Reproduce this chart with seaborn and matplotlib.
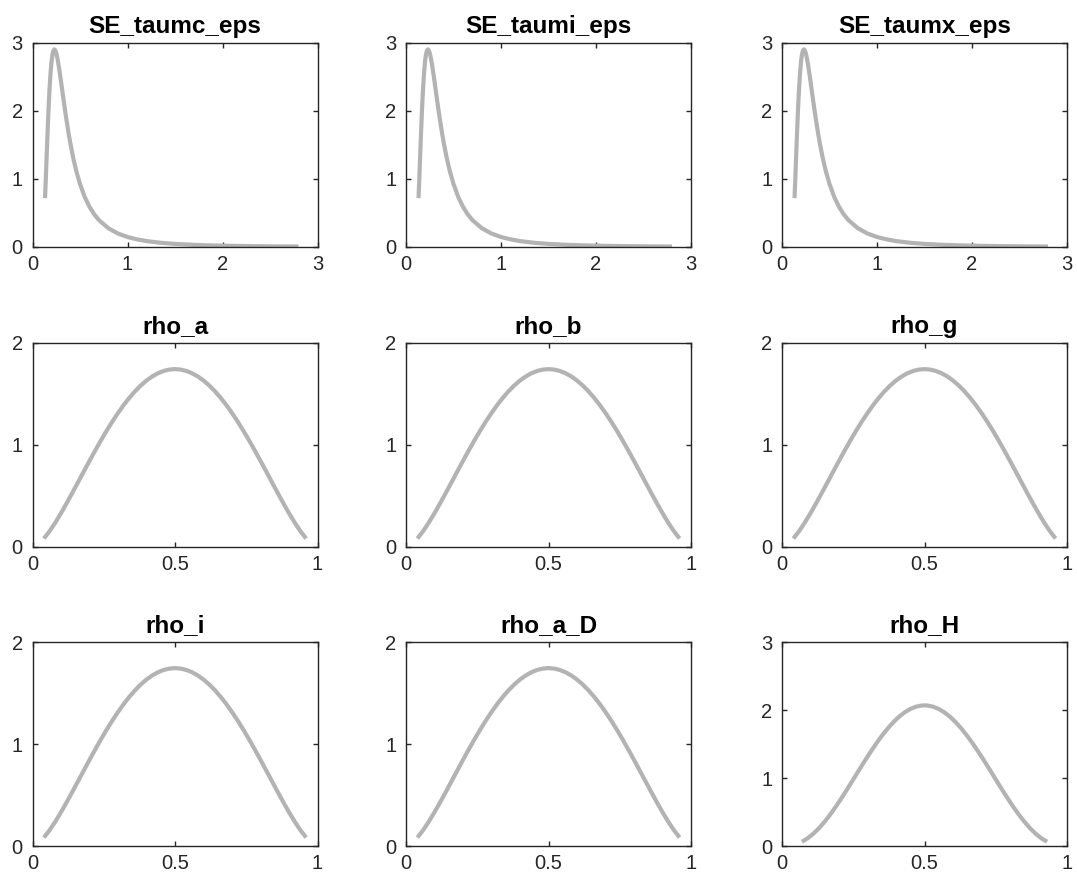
import matplotlib
matplotlib.use("Agg")
import matplotlib.pyplot as plt
import seaborn as sns
import pandas as pd

# Prior density of the shock standard errors (inverse gamma, mean 0.5)
se_x = [0.132, 0.14, 0.15, 0.16, 0.17, 0.18, 0.19, 0.20, 0.21, 0.22, 0.23,
        0.24, 0.25, 0.26, 0.27, 0.28, 0.30, 0.32, 0.34, 0.36, 0.38, 0.40,
        0.43, 0.46, 0.50, 0.55, 0.60, 0.65, 0.70, 0.80, 0.90, 1.00, 1.10,
        1.20, 1.35, 1.50, 1.70, 1.90, 2.10, 2.30, 2.55, 2.80]
se_y = [0.7189, 1.0004, 1.3726, 1.7356, 2.0637, 2.3406, 2.5598, 2.7211,
        2.8281, 2.8873, 2.9062, 2.8918, 2.8514, 2.7903, 2.7143, 2.6275,
        2.4348, 2.2329, 2.0343, 1.8461, 1.6716, 1.5123, 1.3017, 1.1226,
        0.9261, 0.7353, 0.5907, 0.4800, 0.3945, 0.2745, 0.1979, 0.1470,
        0.1120, 0.08715, 0.06192, 0.04552, 0.03152, 0.02270, 0.01688,
        0.01289, 0.00948, 0.00718]

# Prior density of the persistence parameters (beta, mean 0.5, sd 0.2)
rho_x = [0.04, 0.06, 0.08, 0.10, 0.12, 0.14, 0.16, 0.18, 0.20, 0.22, 0.24,
         0.26, 0.28, 0.30, 0.32, 0.34, 0.36, 0.38, 0.40, 0.42, 0.44, 0.46,
         0.48, 0.50, 0.52, 0.54, 0.56, 0.58, 0.60, 0.62, 0.64, 0.66, 0.68,
         0.70, 0.72, 0.74, 0.76, 0.78, 0.80, 0.82, 0.84, 0.86, 0.88, 0.90,
         0.92, 0.94, 0.96]
rho_y = [0.0831, 0.1552, 0.2391, 0.3315, 0.4298, 0.5319, 0.6361, 0.7406,
         0.8443, 0.9461, 1.0449, 1.1395, 1.2294, 1.3136, 1.3919, 1.4632,
         1.5273, 1.5836, 1.6320, 1.6720, 1.7032, 1.7258, 1.7393, 1.7441,
         1.7393, 1.7258, 1.7032, 1.6720, 1.6320, 1.5836, 1.5273, 1.4632,
         1.3919, 1.3136, 1.2294, 1.1395, 1.0449, 0.9461, 0.8443, 0.7406,
         0.6361, 0.5319, 0.4298, 0.3315, 0.2391, 0.1552, 0.0831]

# Prior density of rho_H (beta, mean 0.5, tighter)
rhoH_x = [0.07, 0.09, 0.11, 0.13, 0.15, 0.17, 0.19, 0.21, 0.23, 0.25, 0.27,
          0.29, 0.31, 0.33, 0.35, 0.37, 0.39, 0.41, 0.43, 0.45, 0.47, 0.49,
          0.50, 0.51, 0.53, 0.55, 0.57, 0.59, 0.61, 0.63, 0.65, 0.67, 0.69,
          0.71, 0.73, 0.75, 0.77, 0.79, 0.81, 0.83, 0.85, 0.87, 0.89, 0.91,
          0.93]
rhoH_y = [0.0626, 0.1136, 0.1808, 0.2630, 0.3591, 0.4674, 0.5857, 0.7121,
          0.8438, 0.9788, 1.1145, 1.2486, 1.3785, 1.5025, 1.6184, 1.7239,
          1.8180, 1.8986, 1.9645, 2.0148, 2.0489, 2.0659, 2.0680, 2.0659,
          2.0489, 2.0148, 1.9645, 1.8986, 1.8180, 1.7239, 1.6184, 1.5025,
          1.3785, 1.2486, 1.1145, 0.9788, 0.8438, 0.7121, 0.5857, 0.4674,
          0.3591, 0.2630, 0.1808, 0.1136, 0.0626]

titles = ["SE_taumc_eps", "SE_taumi_eps", "SE_taumx_eps",
          "rho_a", "rho_b", "rho_g",
          "rho_i", "rho_a_D", "rho_H"]

se_xticks = [0, 1, 2, 3]
se_yticks = [0, 1, 2, 3]
rho_xticks = [0, 0.5, 1]
rho_xticklabels = ["0", "0.5", "1"]
rho_yticks = [0, 1, 2]
rhoH_yticks = [0, 1, 2, 3]

panels = []
for name in titles[:3]:
    panels.append((name, se_x, se_y, se_xticks, [str(t) for t in se_xticks],
                   se_yticks))
for name in titles[3:8]:
    panels.append((name, rho_x, rho_y, rho_xticks, rho_xticklabels,
                   rho_yticks))
panels.append((titles[8], rhoH_x, rhoH_y, rho_xticks, rho_xticklabels,
               rhoH_yticks))

sns.set_style("ticks")
plt.rcParams["font.family"] = ["Liberation Sans", "DejaVu Sans"]

W, H = 1077, 891
fig = plt.figure(figsize=(W / 100, H / 100), dpi=100)

col_left = [32.5, 406, 782]
row_top = [43, 343, 642]
ax_w, ax_h = 285, 204

axis_color = "#262626"
line_color = "#b3b3b3"

for i, (name, xs, ys, xt, xtl, yt) in enumerate(panels):
    r, c = divmod(i, 3)
    left = col_left[c] / W
    bottom = 1 - (row_top[r] + ax_h) / H
    ax = fig.add_axes([left, bottom, ax_w / W, ax_h / H])
    df = pd.DataFrame({"x": xs, "y": ys})
    sns.lineplot(data=df, x="x", y="y", ax=ax, color=line_color,
                 linewidth=3.0, errorbar=None, solid_capstyle="butt")
    ax.set_xlim(xt[0], xt[-1])
    ax.set_ylim(yt[0], yt[-1])
    ax.set_xticks(xt)
    ax.set_xticklabels(xtl)
    ax.set_yticks(yt)
    ax.set_yticklabels([str(t) for t in yt])
    ax.set_xlabel("")
    ax.set_ylabel("")
    for sp in ax.spines.values():
        sp.set_visible(True)
        sp.set_color(axis_color)
        sp.set_linewidth(1.0)
    ax.tick_params(direction="in", length=3.5, width=1.0, colors=axis_color,
                   labelsize=14.5, top=True, right=True, pad=6)
    ax.tick_params(axis="y", pad=7)
    ax.set_title(name, fontsize=17.5, fontweight="bold", color="black",
                 pad=7)

fig.savefig("out.png", dpi=100)
